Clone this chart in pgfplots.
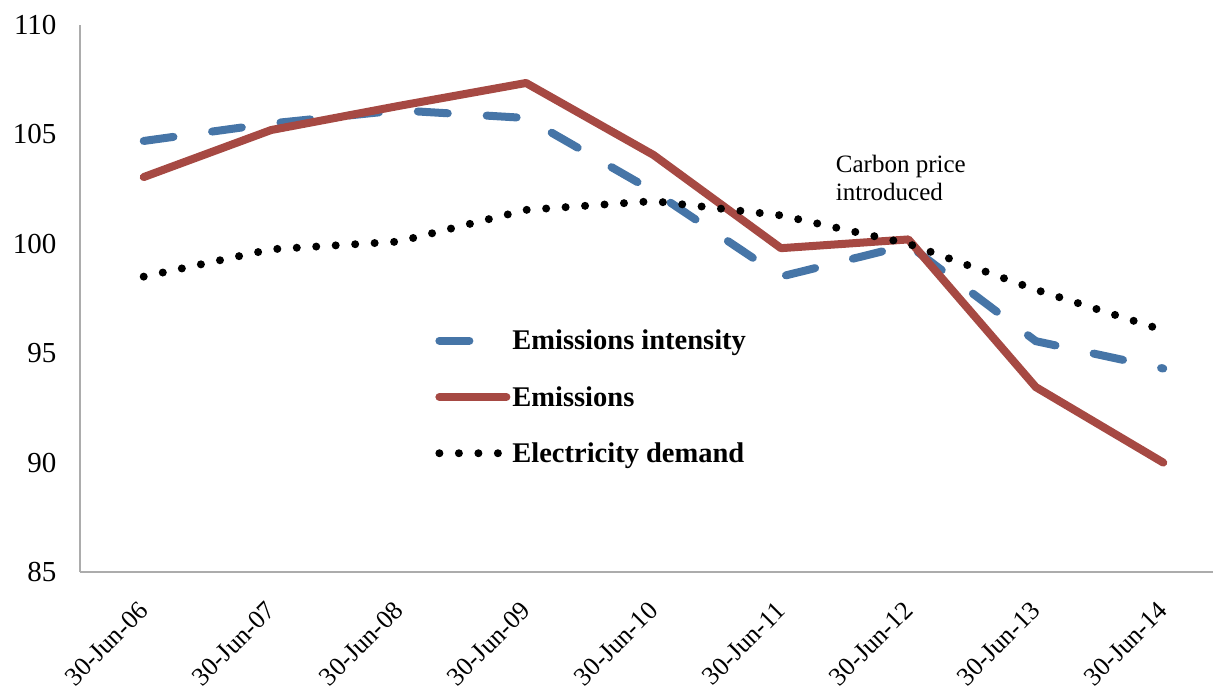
\documentclass[border=0pt]{standalone}
\usepackage{pgfplots}
\pgfplotsset{compat=1.18}
\usepackage{fontspec}
\setmainfont{Liberation Serif}
\definecolor{eblue}{RGB}{70,117,167}
\definecolor{ered}{RGB}{166,73,67}
\begin{document}
\begin{tikzpicture}
\begin{axis}[name=ax, width=1133pt, height=547pt, scale only axis,
  xmin=-0.5, xmax=8.39, ymin=85, ymax=110, ytick={85,90,...,110},
  xtick={0,...,8},
  xticklabels={30-Jun-06,30-Jun-07,30-Jun-08,30-Jun-09,30-Jun-10,30-Jun-11,30-Jun-12,30-Jun-13,30-Jun-14},
  axis x line=bottom, axis y line=left,
  axis line style={-, gray!65, line width=1.2pt},
  major tick length=0pt,
  /pgf/number format/assume math mode=true,
  yticklabel style={font=\fontsize{29}{34}\selectfont, xshift=-20pt},
  xticklabel style={rotate=45, anchor=north east, font=\fontsize{26}{30}\selectfont, xshift=-21pt, yshift=-12pt},
  legend style={draw=none, fill=none, at={(0.3135,0.32)}, anchor=west,
    font=\bfseries\fontsize{28.5}{33}\selectfont, row sep=31pt, inner sep=0pt},
  legend cell align=left,
  legend image code/.code={\draw[#1] (0pt,0pt) -- (67pt,0pt);},
]
\addplot[eblue, line width=8pt, line cap=round, dash pattern=on 30pt off 39pt]
  coordinates {(0,104.7) (1,105.5) (2,106.1) (3,105.75) (4,102.4) (5,98.5) (6,99.95) (7,95.55) (8,94.3)};
\addlegendentry{Emissions intensity}
\addplot[ered, line width=8pt, line cap=round, line join=round]
  coordinates {(0,103.05) (1,105.2) (2,106.3) (3,107.35) (4,104.06) (5,99.8) (6,100.2) (7,93.45) (8,90.0)};
\addlegendentry{Emissions}
\addplot[black, line width=8pt, line cap=round, dash pattern=on 0pt off 19.5pt]
  coordinates {(0,98.5) (1,99.75) (2,100.1) (3,101.55) (4,101.95) (5,101.3) (6,100.0) (7,97.9) (8,96.05)};
\addlegendentry{Electricity demand}
\node[anchor=north west, align=left, font=\fontsize{25}{28}\selectfont, inner sep=0pt]
  at (axis cs:5.43,104.07) {Carbon price\\introduced};
\end{axis}
\pgfresetboundingbox
\useasboundingbox ([xshift=-80pt,yshift=-117pt]ax.south west) rectangle ++(1213pt,689pt);
\end{tikzpicture}
\end{document}
